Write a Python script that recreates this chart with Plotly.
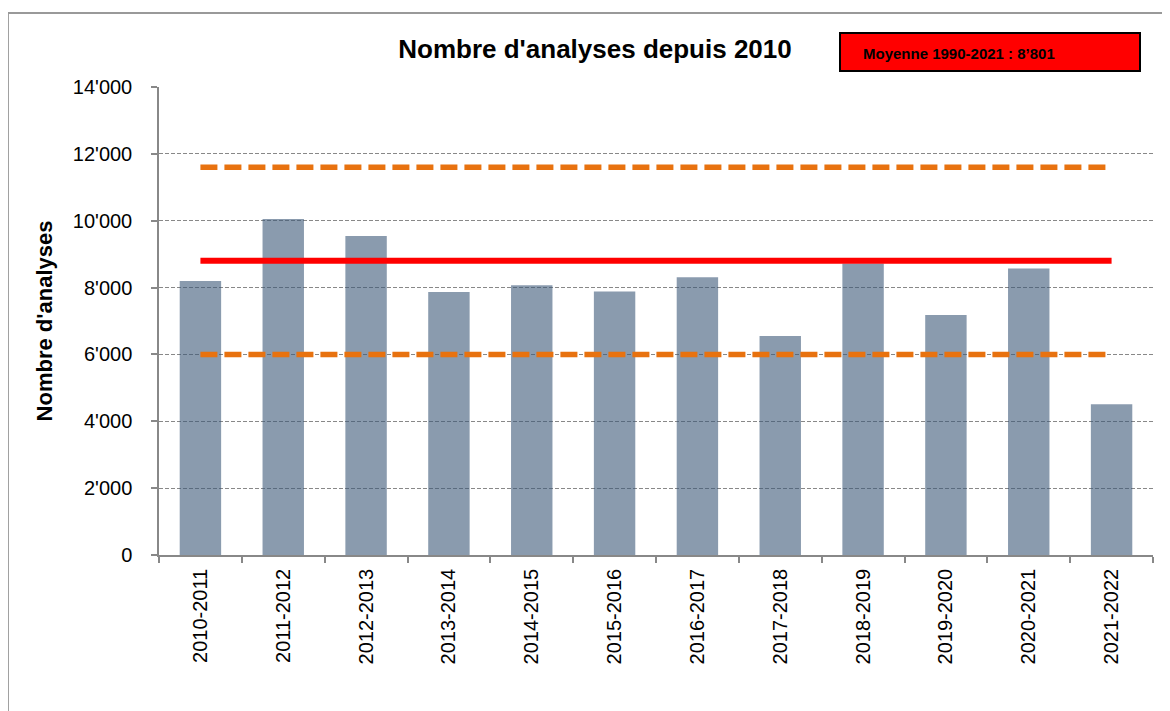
import plotly.graph_objects as go

categories = ["2010-2011", "2011-2012", "2012-2013", "2013-2014", "2014-2015",
              "2015-2016", "2016-2017", "2017-2018", "2018-2019", "2019-2020",
              "2020-2021", "2021-2022"]
analyses = [8200, 10050, 9540, 7870, 8070, 7880, 8310, 6550, 8720, 7180, 8570, 4510]

mean_value = 8801
upper_value = 11600
lower_value = 6000

y_tickvals = [0, 2000, 4000, 6000, 8000, 10000, 12000, 14000]
y_ticktext = ["0", "2'000", "4'000", "6'000", "8'000", "10'000", "12'000", "14'000"]

title_text = "Nombre d'analyses depuis 2010"
y_title = "Nombre d'analyses"
legend_text = "Moyenne 1990-2021 : 8\u2019801"

FONT = "Liberation Sans, Arial, sans-serif"

# page has an 8px body margin: compensate so the plot lands where the reference has it
W, H = 1162, 703
OFF = 8

fig = go.Figure()
fig.add_trace(go.Bar(
    x=categories, y=analyses,
    marker=dict(color="rgba(60,88,120,0.6)", line=dict(width=0)),
    showlegend=False, hoverinfo="x+y",
))
line_x = [categories[0], categories[-1]]
fig.add_trace(go.Scatter(x=line_x, y=[upper_value, upper_value], mode="lines",
                         line=dict(color="#E8720F", width=5.5, dash="17px,7px"),
                         showlegend=False))
fig.add_trace(go.Scatter(x=line_x, y=[lower_value, lower_value], mode="lines",
                         line=dict(color="#E8720F", width=5.5, dash="17px,7px"),
                         showlegend=False))
fig.add_trace(go.Scatter(x=line_x, y=[mean_value, mean_value], mode="lines",
                         line=dict(color="#FF0000", width=6),
                         showlegend=False))

fig.update_layout(
    width=W, height=H,
    margin=dict(l=159 - OFF, r=17, t=87 - OFF, b=156),
    paper_bgcolor="white", plot_bgcolor="white",
    font=dict(family=FONT, color="black"),
    bargap=0.5,
    title=dict(text="<b>" + title_text + "</b>", x=(595 - OFF) / W, xanchor="center",
               y=1 - (49 - OFF) / H, yanchor="middle", yref="container", xref="container",
               font=dict(size=26, family=FONT, color="black")),
    xaxis=dict(
        type="category", tickson="boundaries", ticks="outside", ticklen=6,
        tickcolor="#888888", tickwidth=1.5,
        showline=True, linecolor="#888888", linewidth=1.5,
        showgrid=False, tickangle=-90, ticklabelstandoff=4,
        tickfont=dict(size=20, family=FONT, color="black"),
    ),
    yaxis=dict(
        range=[0, 14000], tickvals=y_tickvals, ticktext=y_ticktext,
        ticks="outside", ticklen=6, tickcolor="#888888", tickwidth=1.5,
        showline=True, linecolor="#888888", linewidth=1.5,
        showgrid=True, gridcolor="#888888", gridwidth=1, griddash="4px,2px",
        zeroline=False, ticklabelstandoff=15,
        tickfont=dict(size=20, family=FONT, color="black"),
        title=dict(text="<b>" + y_title + "</b>", standoff=14,
                   font=dict(size=22, family=FONT, color="black")),
    ),
    shapes=[
        dict(type="rect", xref="paper", yref="paper",
             x0=-0.152, x1=1.06, y0=-0.6, y1=(555 - 13) / 468,
             line=dict(color="#999999", width=2), fillcolor="rgba(0,0,0,0)", layer="below"),
        dict(type="rect", xref="paper", yref="paper",
             x0=(840 - 159) / 994, x1=(1140 - 159) / 994,
             y0=(555 - 71) / 468, y1=(555 - 33) / 468,
             line=dict(color="black", width=2), fillcolor="#FF0000"),
    ],
    annotations=[
        dict(text="<b>" + legend_text + "</b>", xref="paper", yref="paper",
             x=(861 - 159) / 994, y=(555 - 53) / 468, xanchor="left", yanchor="middle",
             showarrow=False, font=dict(size=15, family=FONT, color="black")),
    ],
)

fig.write_html("out.html")
